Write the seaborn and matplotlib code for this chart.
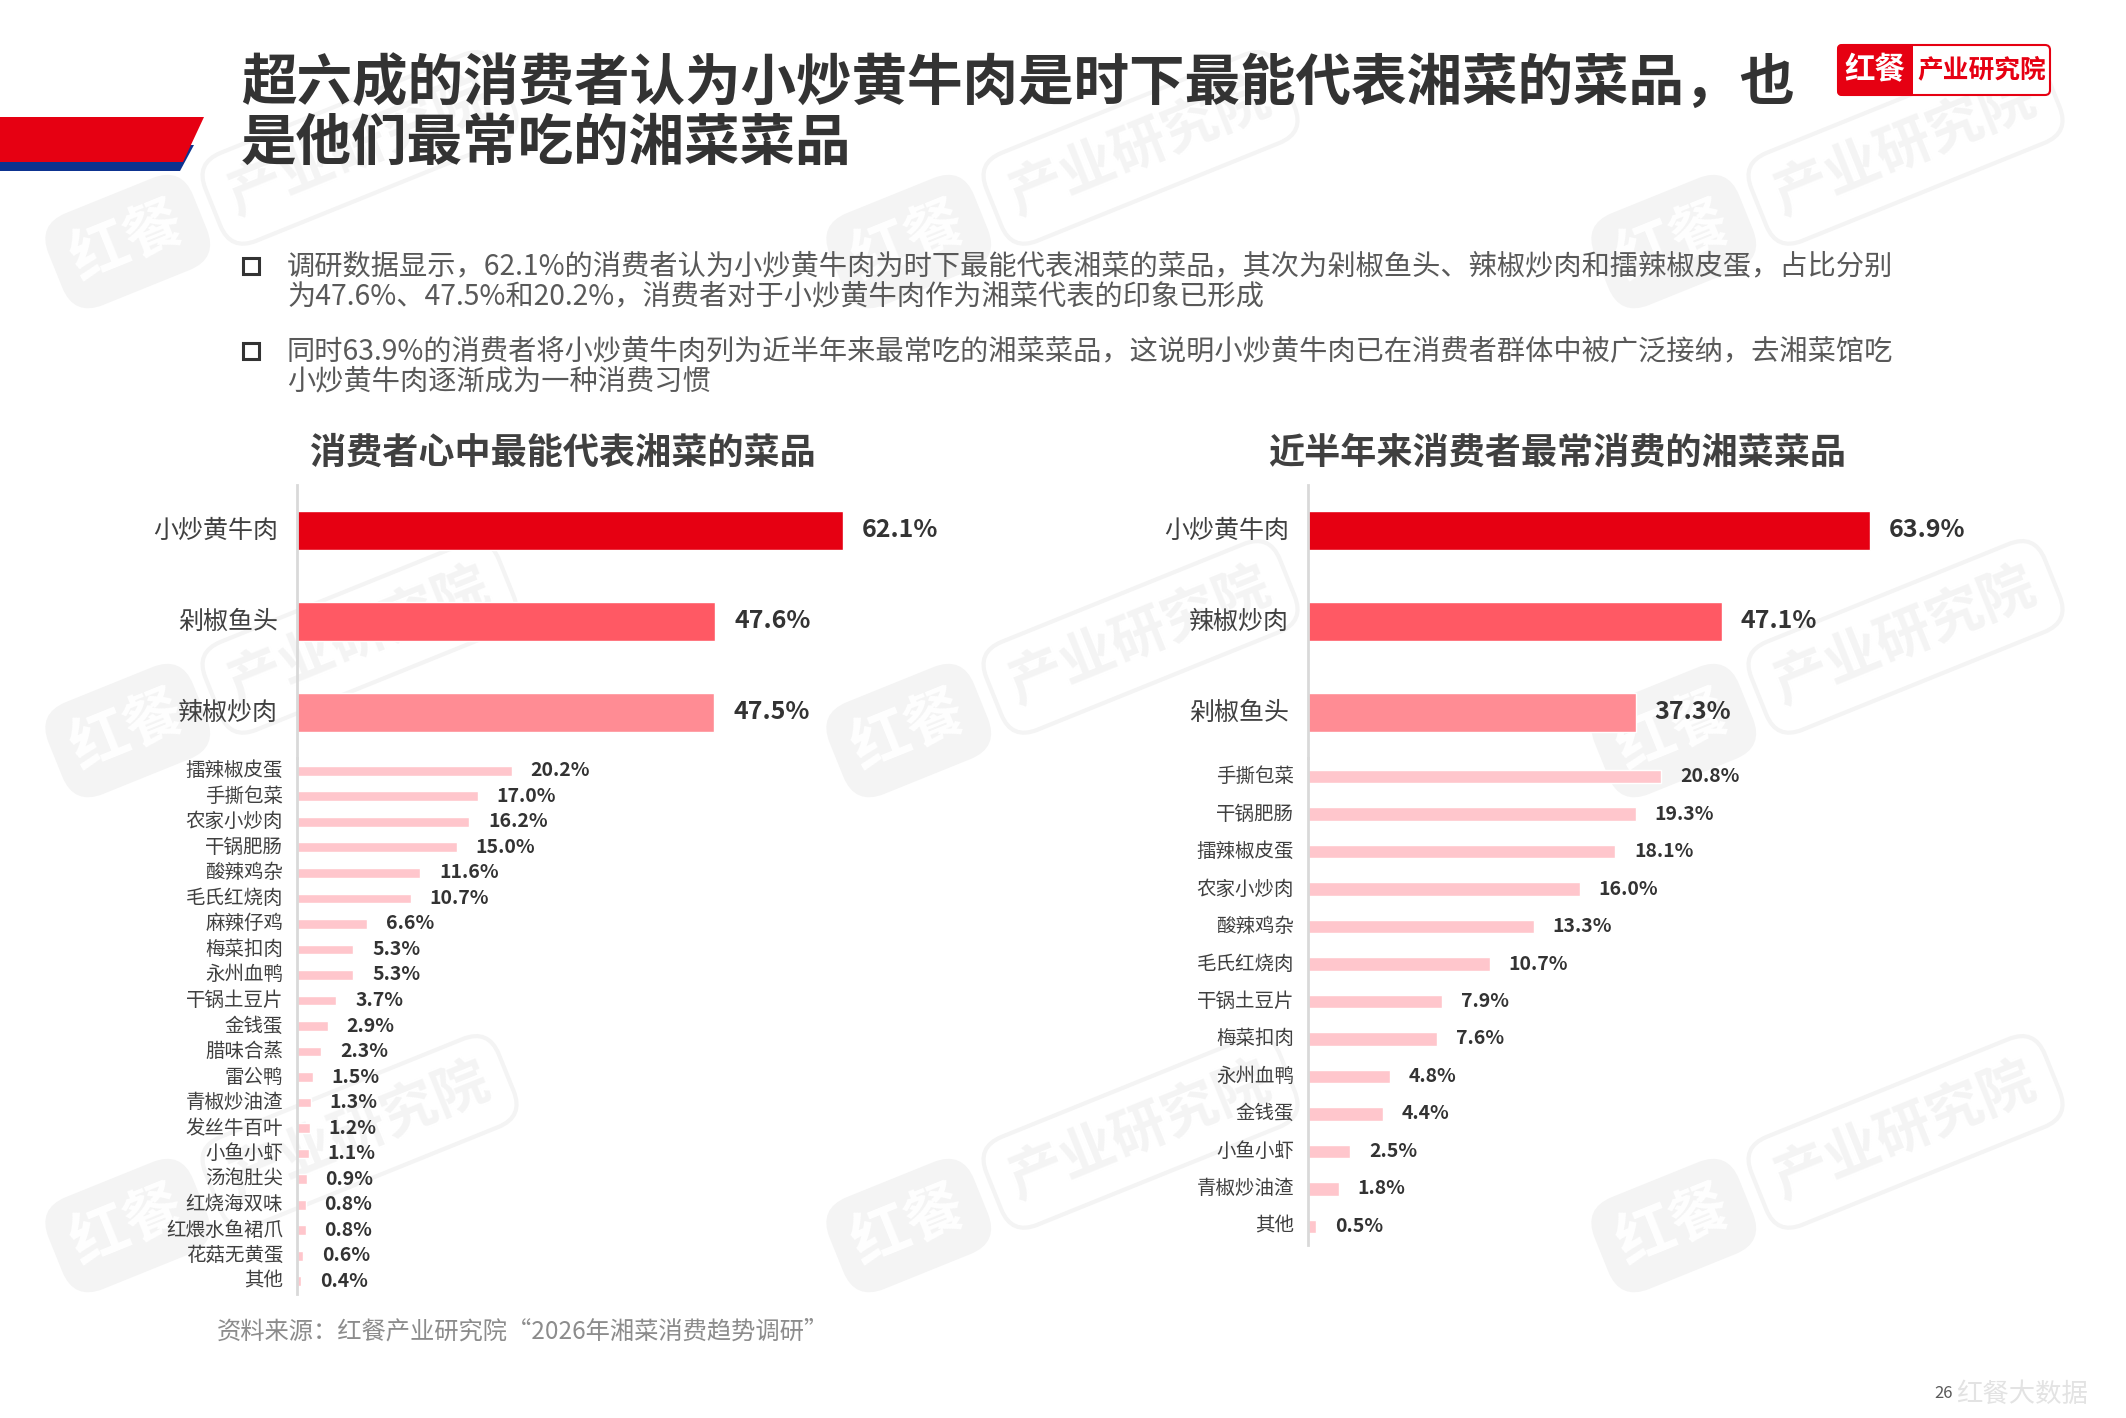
import numpy as np
import matplotlib
matplotlib.use('Agg')
import matplotlib.pyplot as plt
import seaborn as sns
from matplotlib.patches import Polygon, Rectangle, FancyBboxPatch

# ---- data ----
left_top_names = ['小炒黄牛肉', '剁椒鱼头', '辣椒炒肉']
left_top_vals = [62.1, 47.6, 47.5]
left_rest_names = ['擂辣椒皮蛋', '手撕包菜', '农家小炒肉', '干锅肥肠', '酸辣鸡杂', '毛氏红烧肉',
                   '麻辣仔鸡', '梅菜扣肉', '永州血鸭', '干锅土豆片', '金钱蛋', '腊味合蒸',
                   '雷公鸭', '青椒炒油渣', '发丝牛百叶', '小鱼小虾', '汤泡肚尖', '红烧海双味',
                   '红煨水鱼裙爪', '花菇无黄蛋', '其他']
left_rest_vals = [20.2, 17.0, 16.2, 15.0, 11.6, 10.7, 6.6, 5.3, 5.3, 3.7, 2.9, 2.3,
                  1.5, 1.3, 1.2, 1.1, 0.9, 0.8, 0.8, 0.6, 0.4]

right_top_names = ['小炒黄牛肉', '辣椒炒肉', '剁椒鱼头']
right_top_vals = [63.9, 47.1, 37.3]
right_rest_names = ['手撕包菜', '干锅肥肠', '擂辣椒皮蛋', '农家小炒肉', '酸辣鸡杂', '毛氏红烧肉',
                    '干锅土豆片', '梅菜扣肉', '永州血鸭', '金钱蛋', '小鱼小虾', '青椒炒油渣', '其他']
right_rest_vals = [20.8, 19.3, 18.1, 16.0, 13.3, 10.7, 7.9, 7.6, 4.8, 4.4, 2.5, 1.8, 0.5]

title_lines = ['超六成的消费者认为小炒黄牛肉是时下最能代表湘菜的菜品，也', '是他们最常吃的湘菜菜品']
bullet_1 = ['调研数据显示，62.1%的消费者认为小炒黄牛肉为时下最能代表湘菜的菜品，其次为剁椒鱼头、辣椒炒肉和擂辣椒皮蛋，占比分别',
            '为47.6%、47.5%和20.2%，消费者对于小炒黄牛肉作为湘菜代表的印象已形成']
bullet_2 = ['同时63.9%的消费者将小炒黄牛肉列为近半年来最常吃的湘菜菜品，这说明小炒黄牛肉已在消费者群体中被广泛接纳，去湘菜馆吃',
            '小炒黄牛肉逐渐成为一种消费习惯']
left_title = '消费者心中最能代表湘菜的菜品'
right_title = '近半年来消费者最常消费的湘菜菜品'
source = '资料来源：红餐产业研究院“2026年湘菜消费趋势调研”'

top_colors = ['#E60012', '#FF5964', '#FF8C94']
small_color = '#FFC6CC'

sns.set_style('white')
plt.rcParams['font.family'] = ['Noto Sans CJK SC', 'DejaVu Sans']

W, H = 2126, 1418
fig = plt.figure(figsize=(W / 100, H / 100), dpi=100)

# background / decoration layer in pixel coordinates
bg = fig.add_axes([0, 0, 1, 1], zorder=0)
bg.set_xlim(0, W)
bg.set_ylim(H, 0)
bg.axis('off')

# watermarks: "红餐" block + outlined "产业研究院", tilted
ang = 22
ux, uy = np.cos(np.radians(ang)), -np.sin(np.radians(ang))
wm = '#F4F4F4'
for cx in [290, 1071, 1836]:
    for cy in [176, 665, 1160]:
        bg.text(cx - 175 * ux, cy - 175 * uy, '红餐', fontsize=42, fontweight='bold', color='white',
                rotation=ang, ha='center', va='center', rotation_mode='anchor', zorder=0.5,
                bbox=dict(boxstyle='round,pad=0.3,rounding_size=0.5', fc=wm, ec=wm, lw=3))
        bg.text(cx + 75 * ux, cy + 75 * uy, '产业研究院', fontsize=40, fontweight='bold', color=wm,
                rotation=ang, ha='center', va='center', rotation_mode='anchor', zorder=0.4,
                bbox=dict(boxstyle='round,pad=0.35,rounding_size=0.5', fc='none', ec=wm, lw=3))

# left banner
bg.add_patch(Polygon([(0, 145), (194, 145), (180, 171), (0, 171)], closed=True, fc='#0D3390', ec='none', zorder=1))
bg.add_patch(Polygon([(0, 117), (204, 117), (183, 162), (0, 162)], closed=True, fc='#E60012', ec='none', zorder=1.1))

# title
bg.text(241, 84, title_lines[0], fontsize=40, fontweight='heavy', color='#333333', va='center')
bg.text(241, 144, title_lines[1], fontsize=40, fontweight='heavy', color='#333333', va='center')

# logo
bg.add_patch(FancyBboxPatch((1838, 45), 212, 50, boxstyle='round,pad=0,rounding_size=5',
                            fc='white', ec='#E60012', lw=1.5, zorder=2))
bg.add_patch(FancyBboxPatch((1837, 44), 76, 52, boxstyle='round,pad=0,rounding_size=5',
                            fc='#E60012', ec='none', zorder=2))
bg.add_patch(Rectangle((1900, 44), 13, 52, fc='#E60012', ec='none', zorder=2))
bg.text(1875, 70, '红餐', fontsize=22, fontweight='bold', color='white', ha='center', va='center', zorder=3)
bg.text(1982, 70, '产业研究院', fontsize=18.5, fontweight='bold', color='#E60012', ha='center', va='center', zorder=3)

# bullets
for (y1, y2), lines in [((266, 296), bullet_1), ((351, 381), bullet_2)]:
    bg.add_patch(Rectangle((243, y1 - 8), 16, 16, fc='none', ec='#333333', lw=2.2, zorder=2))
    bg.text(287, y1, lines[0], fontsize=20.3, color='#595959', va='center')
    bg.text(287, y2, lines[1], fontsize=20.3, color='#595959', va='center')

# chart subtitles
bg.text(563, 453, left_title, fontsize=26, fontweight='bold', color='#404040', ha='center', va='center')
bg.text(1557, 453, right_title, fontsize=26, fontweight='bold', color='#404040', ha='center', va='center')

# source and footer
bg.text(217, 1332, source, fontsize=17.5, color='#8C8C8C', va='center')
bg.text(2022, 1394, '红餐大数据', fontsize=19, fontstyle='italic', color='#E3E3E3', ha='center', va='center')
bg.text(1944, 1394, '26', fontsize=12, color='#595959', ha='center', va='center')


def px_axes(x, y_top, y_bot, width=703):
    ax = fig.add_axes([x / W, 1 - y_bot / H, width / W, (y_bot - y_top) / H], zorder=2)
    ax.set_facecolor('none')
    return ax


def draw_bars(ax, names, vals, colors, bar_w, xmax, name_size, val_size, name_pad):
    sns.barplot(x=vals, y=names, hue=names, palette=colors, legend=False,
                orient='h', width=bar_w, ax=ax, saturation=1)
    ax.set_xlim(0, xmax)
    ax.set_xlabel('')
    ax.set_ylabel('')
    ax.set_xticks([])
    for s in ['top', 'right', 'bottom']:
        ax.spines[s].set_visible(False)
    ax.spines['left'].set_color('#D9D9D9')
    ax.spines['left'].set_linewidth(2)
    ax.tick_params(axis='y', length=0, pad=name_pad, labelsize=name_size, labelcolor='#404040')
    for lbl in ax.get_yticklabels():
        lbl.set_verticalalignment('center')
    for c in ax.containers:
        ax.bar_label(c, fmt='{:.1f}%', padding=13.5, fontsize=val_size,
                     fontweight='bold', color='#333333')


# left chart
ax = px_axes(297, 485, 758)
draw_bars(ax, left_top_names, left_top_vals, top_colors, 0.42, 80, 18, 18, 13.5)
ax = px_axes(297, 758, 1294)
draw_bars(ax, left_rest_names, left_rest_vals, [small_color] * len(left_rest_names), 0.38, 66.1, 14, 14, 10)

# right chart
ax = px_axes(1308, 485, 758)
draw_bars(ax, right_top_names, right_top_vals, top_colors, 0.42, 80, 18, 18, 13.5)
ax = px_axes(1308, 758, 1245)
draw_bars(ax, right_rest_names, right_rest_vals, [small_color] * len(right_rest_names), 0.36, 41.4, 14, 14, 10)

fig.savefig('out.png', dpi=100)
